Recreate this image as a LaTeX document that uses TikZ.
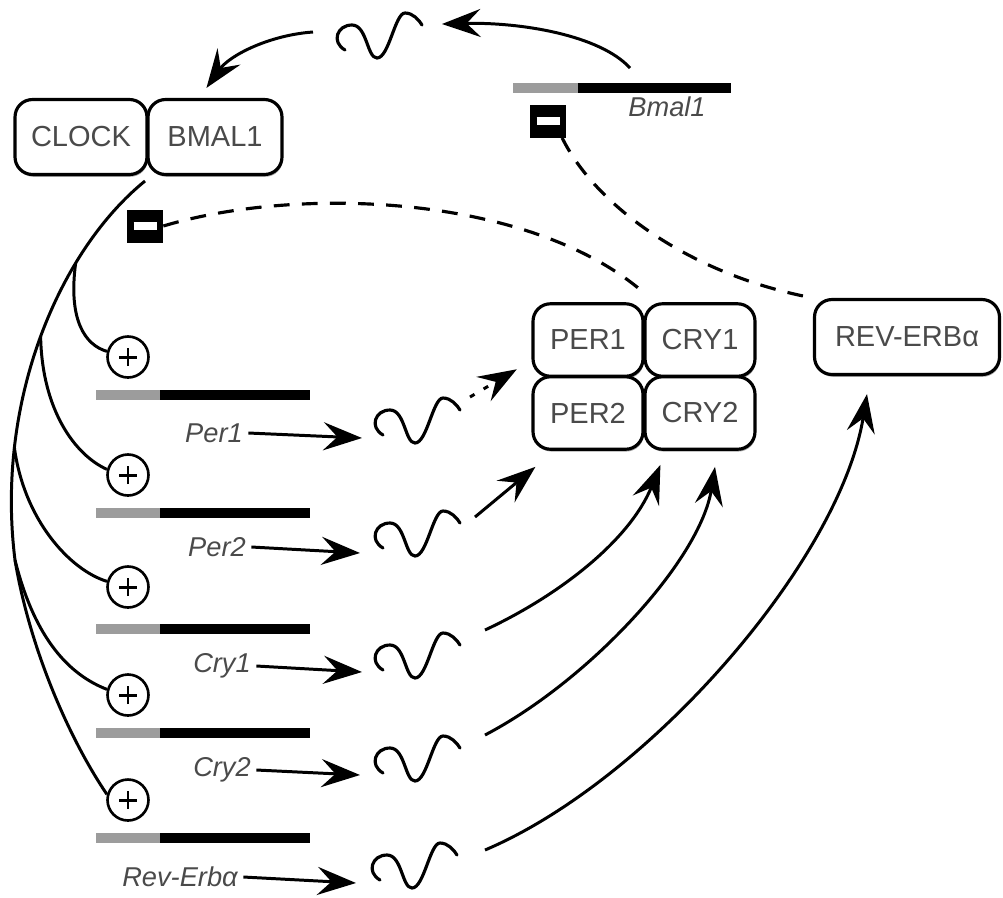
\documentclass[tikz,border=0pt]{standalone}
\usepackage{fontspec}
\setmainfont{Liberation Sans}
\usetikzlibrary{arrows.meta,shadows,calc}

\definecolor{txt}{HTML}{4A4A4A}
\definecolor{promoter}{HTML}{9C9C9C}

\begin{document}
\begin{tikzpicture}[x=0.02cm, y=-0.02cm,
  prot/.style={draw, line width=1.8pt, rounded corners=0.35cm, fill=white,
    text=txt, font=\fontsize{16.5}{18}\selectfont, minimum height=1.5cm, inner sep=0pt,
    drop shadow={shadow xshift=0.5pt, shadow yshift=-1.3pt, fill=gray!70, opacity=1}},
  genelabel/.style={text=txt, font=\fontsize{15.5}{17}\selectfont\itshape, inner sep=3pt},
  act/.style={draw, circle, line width=1.5pt, minimum size=0.82cm, inner sep=0pt, fill=white,
    path picture={
      \draw[line width=1.7pt] ([xshift=-0.18cm]path picture bounding box.center) -- ([xshift=0.18cm]path picture bounding box.center);
      \draw[line width=1.7pt] ([yshift=-0.18cm]path picture bounding box.center) -- ([yshift=0.18cm]path picture bounding box.center);}},
  rep/.style={fill=black, minimum width=0.72cm, minimum height=0.66cm, inner sep=0pt},
  link/.style={line width=1.7pt},
  arr/.style={line width=1.7pt, -{Stealth[length=22pt, width=16pt, inset=8pt]}},
  inhib/.style={line width=1.8pt, dash pattern=on 9pt off 7pt},
  mrna/.pic={\draw[line width=1.8pt, line cap=round]
    (0,0) .. controls (-14,-8) and (-8,-25) .. (7,-25)
          .. controls (22,-25) and (22,8) .. (32,8)
          .. controls (44,8) and (50,-37) .. (60,-37)
          .. controls (68,-37) and (74,-30) .. (77,-25);},
]
\useasboundingbox (0,0) rectangle (1003,897);

% ---- protein complexes ----
\node[prot, minimum width=2.64cm] (clock) at (81,137) {CLOCK};
\node[prot, minimum width=2.68cm] (bmal) at (215,137) {BMAL1};

\node[prot, minimum width=2.2cm, minimum height=1.45cm] (per1) at (588,340) {PER1};
\node[prot, minimum width=2.2cm, minimum height=1.45cm] (cry1) at (700,340) {CRY1};
\node[prot, minimum width=2.2cm, minimum height=1.45cm] (per2) at (588,413) {PER2};
\node[prot, minimum width=2.2cm, minimum height=1.45cm] (cry2) at (700,413) {CRY2};

\node[prot, minimum width=3.7cm] (rev) at (907,337) {REV-ERBα};

% ---- repression marks ----
\node[rep] (m1) at (145,226) {\textcolor{white}{\rule{0.46cm}{0.15cm}}};
\node[rep] (m2) at (548,121) {\textcolor{white}{\rule{0.46cm}{0.15cm}}};

% ---- Bmal1 gene ----
\fill[promoter] (513,83) rectangle (578,93);
\fill[black] (578,83) rectangle (731,93);
\node[genelabel] (lBmal) at (667,107) {Bmal1};

% ---- target genes ----
\foreach \y in {395,513,629,733,838} {
  \fill[promoter] (96,\y-5) rectangle (160,\y+5);
  \fill[black] (160,\y-5) rectangle (310,\y+5);
}

% ---- activation sites ----
\node[act] (p1) at (128,357) {};
\node[act] (p2) at (128,475) {};
\node[act] (p3) at (128,587) {};
\node[act] (p4) at (128,695) {};
\node[act] (p5) at (128,800) {};

% ---- gene labels ----
\node[genelabel] (lPer1) at (214,433) {Per1};
\node[genelabel] (lPer2) at (217,547) {Per2};
\node[genelabel] (lCry1) at (222,666) {Cry1};
\node[genelabel] (lCry2) at (222,770) {Cry2};
\node[genelabel] (lRev) at (180,877) {Rev-Erbα};

% ---- transcripts ----
\pic (wTop) at (345,50) {mrna};
\pic (wPer1) at (383,435) {mrna};
\pic (wPer2) at (383,548) {mrna};
\pic (wCry1) at (383,670) {mrna};
\pic (wCry2) at (383,773) {mrna};
\pic (wRev) at (380,880) {mrna};

% ---- connector end points ----
\coordinate (cbtm) at (145,181);
\coordinate (bmalTx) at (630,68);
\coordinate (wTopR) at (442,24);
\coordinate (wTopL) at (313,32);
\coordinate (cxtop) at (643,292);
\coordinate (tPer1) at (362,438);
\coordinate (tPer2) at (360,553);
\coordinate (tCry1) at (362,672);
\coordinate (tCry2) at (360,775);
\coordinate (tRev) at (356,883);
\coordinate (oPer1) at (470,397);
\coordinate (oPer2) at (475,517);
\coordinate (oCry1) at (485,630);
\coordinate (oCry2) at (485,735);
\coordinate (oRev) at (485,850);

% ---- Bmal1 translation loop ----
\draw[arr] (bmalTx) .. controls (600,35) and (520,22) .. (wTopR);
\draw[arr] (wTopL) .. controls (270,35) and (230,55) .. ($(bmal.north west)+(60,-10)$);

% ---- CLOCK:BMAL1 activation of target genes ----
\draw[link] (cbtm) .. controls (60,250) and (-5,400) .. (15,560)
  coordinate[pos=0.3] (b1) coordinate[pos=0.5] (b2) coordinate[pos=0.76] (b3);
\coordinate (b45) at (15,560);
\draw[link] (b1) .. controls (68,320) and (85,345) .. (p1.165);
\draw[link] (b2) .. controls (42,410) and (75,455) .. (p2.165);
\draw[link] (b3) .. controls (24,520) and (70,570) .. (p3.165);
\draw[link] (b45) .. controls (35,640) and (70,675) .. (p4.165);
\draw[link] (b45) .. controls (30,650) and (70,740) .. (p5.165);

% ---- repression ----
\draw[inhib] (m1.east) .. controls (300,185) and (530,195) .. (cxtop);
\draw[inhib] (m2.-50) .. controls (595,205) and (690,275) .. (rev.north west);

% ---- transcription ----
\draw[arr] (lPer1.east) -- (tPer1);
\draw[arr] (lPer2.east) -- (tPer2);
\draw[arr] (lCry1.east) -- (tCry1);
\draw[arr] (lCry2.east) -- (tCry2);
\draw[arr] (lRev.east) -- (tRev);

% ---- translation ----
\draw[arr, dash pattern=on 3pt off 6pt, shorten >=0.34cm] (oPer1) -- (per1.200);
\draw[arr] (oPer2) -- ($(per2.south west)+(4,16)$);
\draw[arr] (oCry1) .. controls (560,595) and (630,540) .. ($(cry2.south west)+(17,14)$);
\draw[arr] (oCry2) .. controls (590,680) and (700,560) .. ($(cry2.south)+(15,16)$);
\draw[arr] (oRev) .. controls (650,780) and (840,560) .. ($(rev.south)+(-40,18)$);
\end{tikzpicture}
\end{document}
